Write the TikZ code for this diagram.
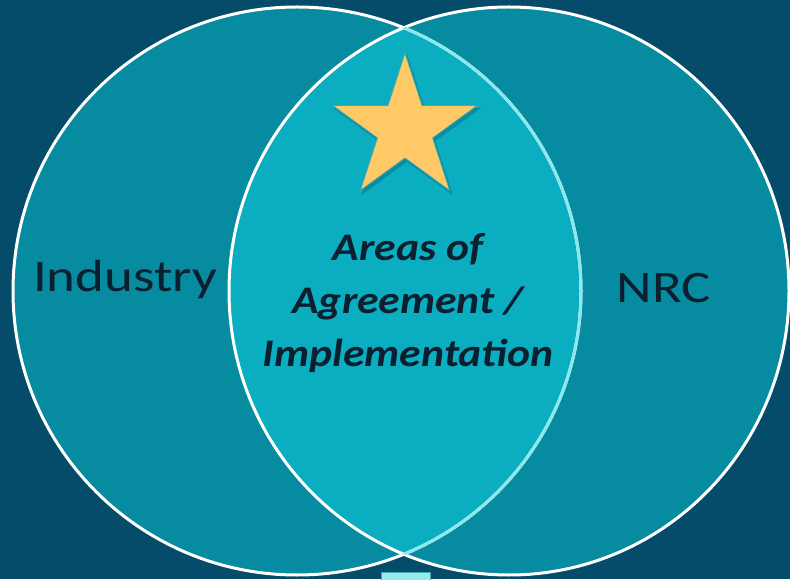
\documentclass[tikz,border=0pt]{standalone}
\usepackage{fontspec}
\setmainfont{Carlito}
\usetikzlibrary{shapes.geometric}

\definecolor{deepblue}{HTML}{054C6A}
\definecolor{tealfill}{HTML}{068BA0}
\definecolor{overlapfill}{HTML}{0AAEC0}
\definecolor{paleline}{HTML}{8CE8EC}
\definecolor{starfill}{HTML}{FFC966}
\definecolor{staredge}{HTML}{3FA6B2}
\definecolor{inktext}{HTML}{0B1F2E}

\tikzset{
  setlabel/.style={inktext,font=\fontsize{45}{54}\selectfont,anchor=base,
    xscale=1.22,transform shape},
  starshape/.style={star,star points=5,star point ratio=2.618,inner sep=0pt}
}

\begin{document}
\begin{tikzpicture}[x=1pt,y=1pt]

% Background
\fill[deepblue] (0,0) rectangle (790,579);
\useasboundingbox (0,0) rectangle (790,579);

% Circles
\fill[tealfill] (509,288) ellipse (280 and 284);
\fill[tealfill] (297,288) circle (284);
\begin{scope}
\clip (297,288) circle (284);
\fill[overlapfill] (509,288) ellipse (280 and 284);
\end{scope}
\draw[white,line width=3pt] (297,288) circle (284);
\draw[white,line width=3pt] (509,288) ellipse (280 and 284);
\begin{scope}
\clip (509,288) ellipse (280 and 284);
\draw[paleline,line width=3pt] (297,288) circle (284);
\end{scope}

% Tab at the bottom
\draw[staredge,fill=paleline!90!white,line width=0.8pt] (381,-2) rectangle (430,7);

% Star
\node[starshape,minimum size=156pt,fill=black,opacity=0.18] (shade) at (407,447) {};
\node[starshape,minimum size=152pt,fill=starfill,draw=staredge,line width=0.8pt] (star) at (405,450) {};

% Labels
\node[setlabel] (industry) at (125,287) {Industry};
\node[setlabel] (nrc) at (664,276) {NRC};
\node[inktext,font=\fontsize{39}{53}\selectfont\bfseries\itshape,align=center,
  xscale=1.12,transform shape] (areas) at (408,276)
  {Areas of\\Agreement /\\Implementation};

\end{tikzpicture}
\end{document}
